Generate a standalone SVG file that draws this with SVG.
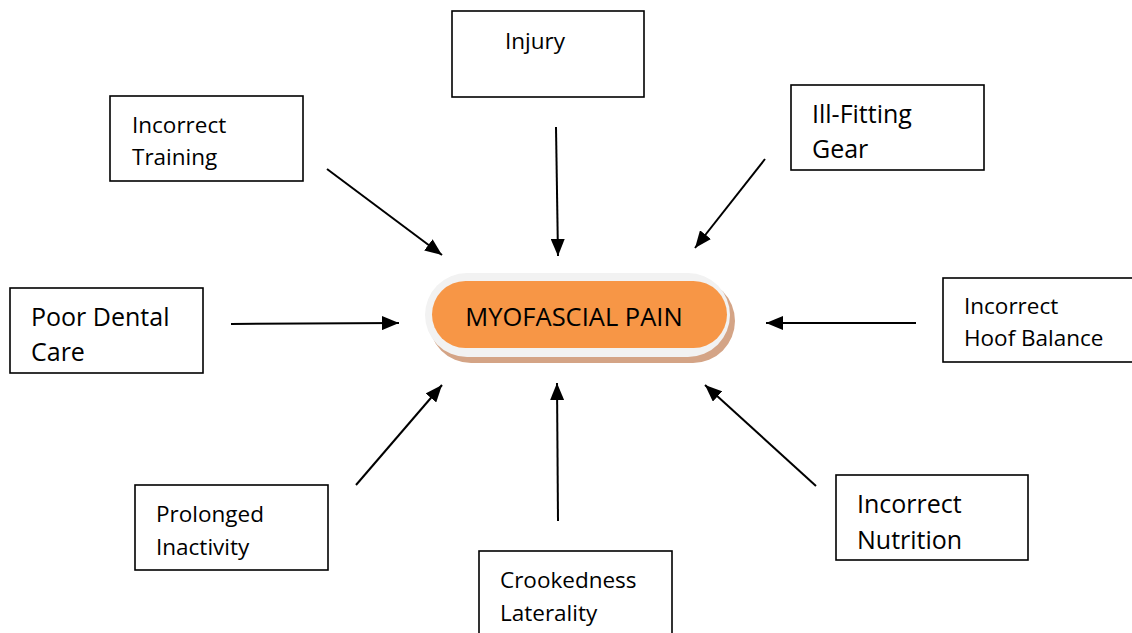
<svg xmlns="http://www.w3.org/2000/svg" width="1132" height="633" viewBox="0 0 1132 633">
<style>
.box{fill:#fff;stroke:#000;stroke-width:1.6}
.t{font-family:"Open Sans","Liberation Sans",sans-serif;font-size:22.5px;fill:#000}
.tl{font-size:25px}
.tc{font-size:25.5px}
.c{stroke:#000;stroke-width:2;fill:none;marker-end:url(#ah)}
</style>
<defs>
<marker id="ah" markerUnits="userSpaceOnUse" markerWidth="17" markerHeight="14" refX="17" refY="7" orient="auto">
<path d="M0,0 L17,7 L0,14 Z" fill="#000"/>
</marker>
</defs>
<rect width="1132" height="633" fill="#fff"/>
<g id="center">
<rect x="429" y="279" width="306" height="84" rx="42" fill="#d4a486"/>
<rect x="425" y="273" width="305" height="84" rx="42" fill="#f2f2f2"/>
<rect x="432" y="281" width="295" height="67" rx="33.5" fill="#f79646"/>
<text class="t tc" x="574" y="326" text-anchor="middle">MYOFASCIAL PAIN</text>
</g>
<g id="injury"><rect class="box" x="452" y="11" width="192" height="86"/><text class="t" x="505" y="49">Injury</text></g>
<g id="training"><rect class="box" x="110" y="96" width="193" height="85"/><text class="t" x="132" y="133">Incorrect</text><text class="t" x="132" y="165">Training</text></g>
<g id="gear"><rect class="box" x="791" y="85" width="193" height="85"/><text class="t tl" x="812" y="123">Ill-Fitting</text><text class="t tl" x="812" y="158">Gear</text></g>
<g id="dental"><rect class="box" x="10" y="288" width="193" height="85"/><text class="t tl" x="31" y="326">Poor Dental</text><text class="t tl" x="31" y="361">Care</text></g>
<g id="hoof"><rect class="box" x="943" y="278" width="195" height="84"/><text class="t" x="964" y="314">Incorrect</text><text class="t" x="964" y="346">Hoof Balance</text></g>
<g id="inactivity"><rect class="box" x="135" y="485" width="193" height="85"/><text class="t" x="156" y="522">Prolonged</text><text class="t" x="156" y="555">Inactivity</text></g>
<g id="crookedness"><rect class="box" x="479" y="551" width="193" height="90"/><text class="t" x="500" y="588">Crookedness</text><text class="t" x="500" y="621">Laterality</text></g>
<g id="nutrition"><rect class="box" x="836" y="475" width="192" height="85"/><text class="t tl" x="857" y="513">Incorrect</text><text class="t tl" x="857" y="549">Nutrition</text></g>
<g id="connectors">
<line class="c" x1="327" y1="169" x2="442" y2="255"/>
<line class="c" x1="556" y1="127" x2="558" y2="256"/>
<line class="c" x1="765" y1="159" x2="695" y2="248"/>
<line class="c" x1="231" y1="324" x2="399" y2="323"/>
<line class="c" x1="916" y1="323" x2="766" y2="323"/>
<line class="c" x1="356" y1="485" x2="442" y2="385"/>
<line class="c" x1="558" y1="521" x2="557" y2="383"/>
<line class="c" x1="816" y1="486" x2="705" y2="385"/>
</g>
</svg>
